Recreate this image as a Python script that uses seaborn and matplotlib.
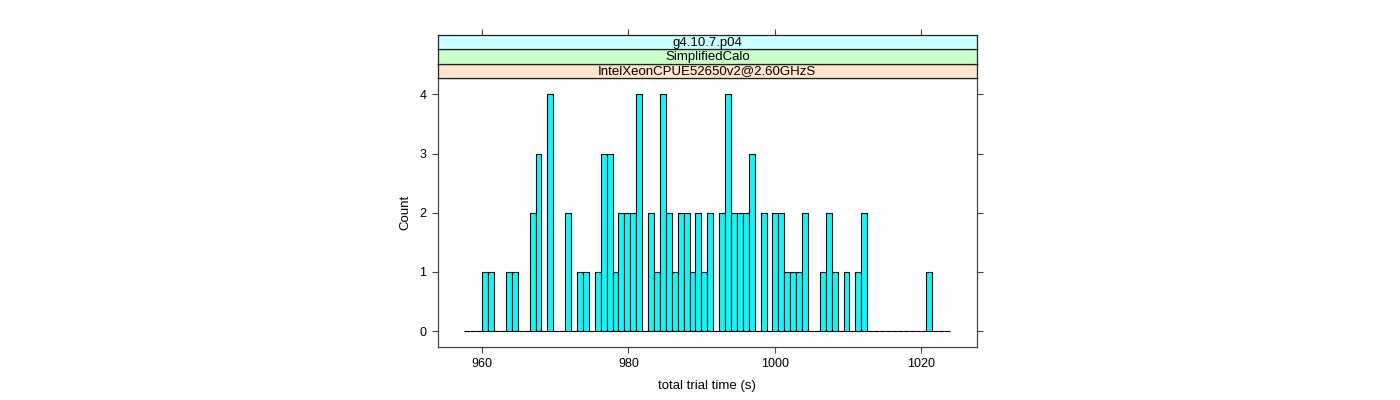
import numpy as np
import pandas as pd
import matplotlib
matplotlib.use("Agg")
import matplotlib.pyplot as plt
import seaborn as sns

# histogram counts per bin (bins of ~0.81 s starting at 957.57 s)
counts = [0, 0, 0,
          1, 1, 0, 0, 1, 1, 0, 0, 2, 3,
          0, 4, 0, 0, 2, 0, 1, 1, 0, 1,
          3, 3, 1, 2, 2, 2, 4, 0, 2, 1,
          4, 2, 1, 2, 2, 1, 2, 1, 2, 0,
          2, 4, 2, 2, 2, 3, 0, 2, 0, 2,
          2, 1, 1, 1, 2, 0, 0, 1, 2, 1,
          0, 1, 0, 1, 2, 0, 0, 0, 0, 0,
          0, 0, 0, 0, 0, 1, 0, 0, 0]
bin_start = 957.57
bin_width = 0.81

strip_labels = ["IntelXeonCPUE52650v2@2.60GHzS", "SimplifiedCalo", "g4.10.7.p04"]
strip_colors = ["#ffe5cc", "#ccffcc", "#ccffff"]
x_ticks = [960, 980, 1000, 1020]
y_ticks = [0, 1, 2, 3, 4]

sns.set_style("ticks")
plt.rcParams["font.family"] = ["Liberation Sans", "DejaVu Sans"]
plt.rcParams["font.size"] = 9
plt.rcParams["text.color"] = "black"
plt.rcParams["axes.labelcolor"] = "black"
plt.rcParams["xtick.labelcolor"] = "black"
plt.rcParams["ytick.labelcolor"] = "black"

n = len(counts)
edges = np.linspace(bin_start, bin_start + n * bin_width, n + 1)
df = pd.DataFrame({"time": (edges[:-1] + edges[1:]) / 2, "count": counts})

fig = plt.figure(figsize=(14, 4), dpi=100)
ax = fig.add_axes([0.3126, 0.1325, 0.3853, 0.6725])

sns.histplot(data=df, x="time", weights="count", bins=edges.tolist(), ax=ax,
             color="#00ffff", edgecolor="black", linewidth=0.8, alpha=1)

xlim = (953.9, 1027.67)
ax.set_xlim(*xlim)
ax.set_ylim(-0.27, 4.276)
ax.set_xticks(x_ticks)
ax.set_yticks(y_ticks)
ax.set_xticklabels([str(t) for t in x_ticks])
ax.set_yticklabels([str(t) for t in y_ticks])
ax.tick_params(direction="out", length=4, width=0.8, color="#444444",
               labelsize=9, labelcolor="black", right=True, top=False, pad=4)
for s in ax.spines.values():
    s.set_visible(True)
    s.set_color("#444444")
    s.set_linewidth(0.9)
ax.set_xlabel("total trial time (s)", fontsize=9.5, labelpad=7, color="black")
ax.set_ylabel("Count", fontsize=9.5, labelpad=6, color="black")

# strips stacked above the panel
strip_h = 0.03583
for i, (lab, col) in enumerate(zip(strip_labels, strip_colors)):
    sax = fig.add_axes([0.3126, 0.805 + i * strip_h, 0.3853, strip_h])
    sax.set_facecolor(col)
    sax.set_xlim(*xlim)
    sax.set_ylim(0, 1)
    sax.set_yticks([])
    if i == len(strip_labels) - 1:
        sax.set_xticks(x_ticks)
        sax.xaxis.tick_top()
        sax.tick_params(axis="x", direction="out", length=4, width=0.8,
                        color="#444444", labeltop=False, labelbottom=False)
    else:
        sax.set_xticks([])
    for s in sax.spines.values():
        s.set_visible(True)
        s.set_color("#222222")
        s.set_linewidth(0.9)
    sax.text(0.5, 0.45, lab, transform=sax.transAxes, ha="center",
             va="center", fontsize=9.5, color="black")

fig.savefig("out.png", dpi=100)
plt.close(fig)
